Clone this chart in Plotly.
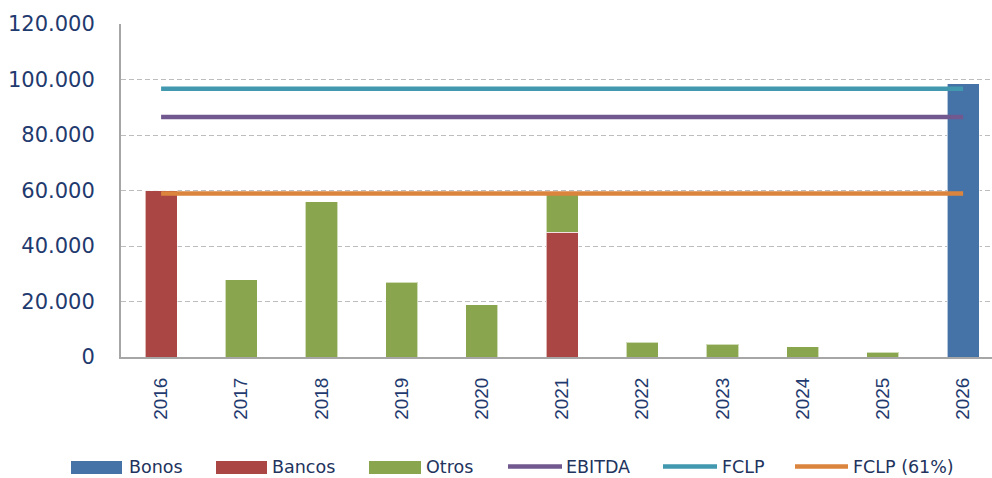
import plotly.graph_objects as go

years = ["2016", "2017", "2018", "2019", "2020", "2021", "2022", "2023", "2024", "2025", "2026"]
bonos = [0, 0, 0, 0, 0, 0, 0, 0, 0, 0, 98500]
bancos = [60000, 0, 0, 0, 0, 44900, 0, 0, 0, 0, 0]
otros = [0, 27800, 56000, 26900, 18900, 13700, 5400, 4600, 3750, 1800, 0]
ebitda = [86500, 86500, 86500, 86500, 86500, 86500, 86500, 86500, 86500, 86500, 86500]
fclp = [96700, 96700, 96700, 96700, 96700, 96700, 96700, 96700, 96700, 96700, 96700]
fclp61 = [58900, 58900, 58900, 58900, 58900, 58900, 58900, 58900, 58900, 58900, 58900]
y_ticks = [0, 20000, 40000, 60000, 80000, 100000, 120000]

W, H = 992, 478
ML, MR, MT, MB = 121, 0, 24, 121
PW, PH = W - ML - MR, H - MT - MB

colors = {
    "Bonos": "#4572A7",
    "Bancos": "#AA4643",
    "Otros": "#89A54E",
    "EBITDA": "#71588F",
    "FCLP": "#4198AF",
    "FCLP (61%)": "#DB843D",
}

fig = go.Figure()
bar_line = dict(color="rgba(255,255,255,0.6)", width=1)
for name, vals in [("Bonos", bonos), ("Bancos", bancos), ("Otros", otros)]:
    fig.add_trace(go.Bar(x=years, y=vals, name=name, width=0.4, showlegend=False,
                         marker=dict(color=colors[name], line=bar_line)))
for name, vals in [("EBITDA", ebitda), ("FCLP", fclp), ("FCLP (61%)", fclp61)]:
    fig.add_trace(go.Scatter(x=years, y=vals, name=name, mode="lines", showlegend=False,
                             line=dict(color=colors[name], width=4.5)))

# Custom legend (Excel-style wide swatches) placed in paper coordinates
def px(xpix):
    return (xpix - ML) / PW

def py(ypix):
    return (H - MB - ypix) / PH

legend_items = [
    ("Bonos", "bar", 71, 122, 128),
    ("Bancos", "bar", 216, 267, 271),
    ("Otros", "bar", 369, 421, 425),
    ("EBITDA", "line", 508, 562, 565),
    ("FCLP", "line", 663, 717, 721),
    ("FCLP (61%)", "line", 795, 848, 852),
]
ly = 467.5
shapes = []
annotations = []
for name, kind, x0, x1, tx in legend_items:
    if kind == "bar":
        shapes.append(dict(type="rect", xref="paper", yref="paper",
                           x0=px(x0), x1=px(x1), y0=py(ly + 6.5), y1=py(ly - 6.5),
                           fillcolor=colors[name], line=dict(width=0)))
    else:
        shapes.append(dict(type="line", xref="paper", yref="paper",
                           x0=px(x0), x1=px(x1), y0=py(ly - 1), y1=py(ly - 1),
                           line=dict(color=colors[name], width=4.5)))
    annotations.append(dict(text=name, xref="paper", yref="paper", x=px(tx), y=py(ly - 1),
                            xanchor="left", yanchor="middle", showarrow=False, borderpad=0,
                            font=dict(family="DejaVu Sans", size=17.5, color="#22335E")))

tick_color = "#1F3A6E"
fig.update_layout(
    width=W, height=H,
    margin=dict(l=ML, r=MR, t=MT, b=MB),
    barmode="stack",
    plot_bgcolor="white",
    paper_bgcolor="white",
    separators=",.",
    showlegend=False,
    shapes=shapes,
    annotations=annotations,
    xaxis=dict(
        type="category",
        range=[-0.5, 10.36],
        tickangle=-90,
        tickfont=dict(family="Liberation Sans", size=19, color=tick_color),
        showgrid=False,
        showline=True, linecolor="#A6A6A6", linewidth=2,
        ticks="",
        automargin=False,
        ticklabelstandoff=11,
    ),
    yaxis=dict(
        range=[0, 120000],
        tickvals=y_ticks,
        tickformat=",.0f",
        tickfont=dict(family="DejaVu Sans", size=21, color=tick_color),
        showgrid=True, gridcolor="#BDBDBD", griddash="5px,3px", gridwidth=1,
        showline=True, linecolor="#A6A6A6", linewidth=2,
        zeroline=False,
        ticks="",
        automargin=False,
        ticklabelstandoff=20,
    ),
)

fig.write_html(
    "out.html",
    config={"displayModeBar": False},
    post_script="document.body.style.margin='0';document.body.style.overflow='hidden';",
)
